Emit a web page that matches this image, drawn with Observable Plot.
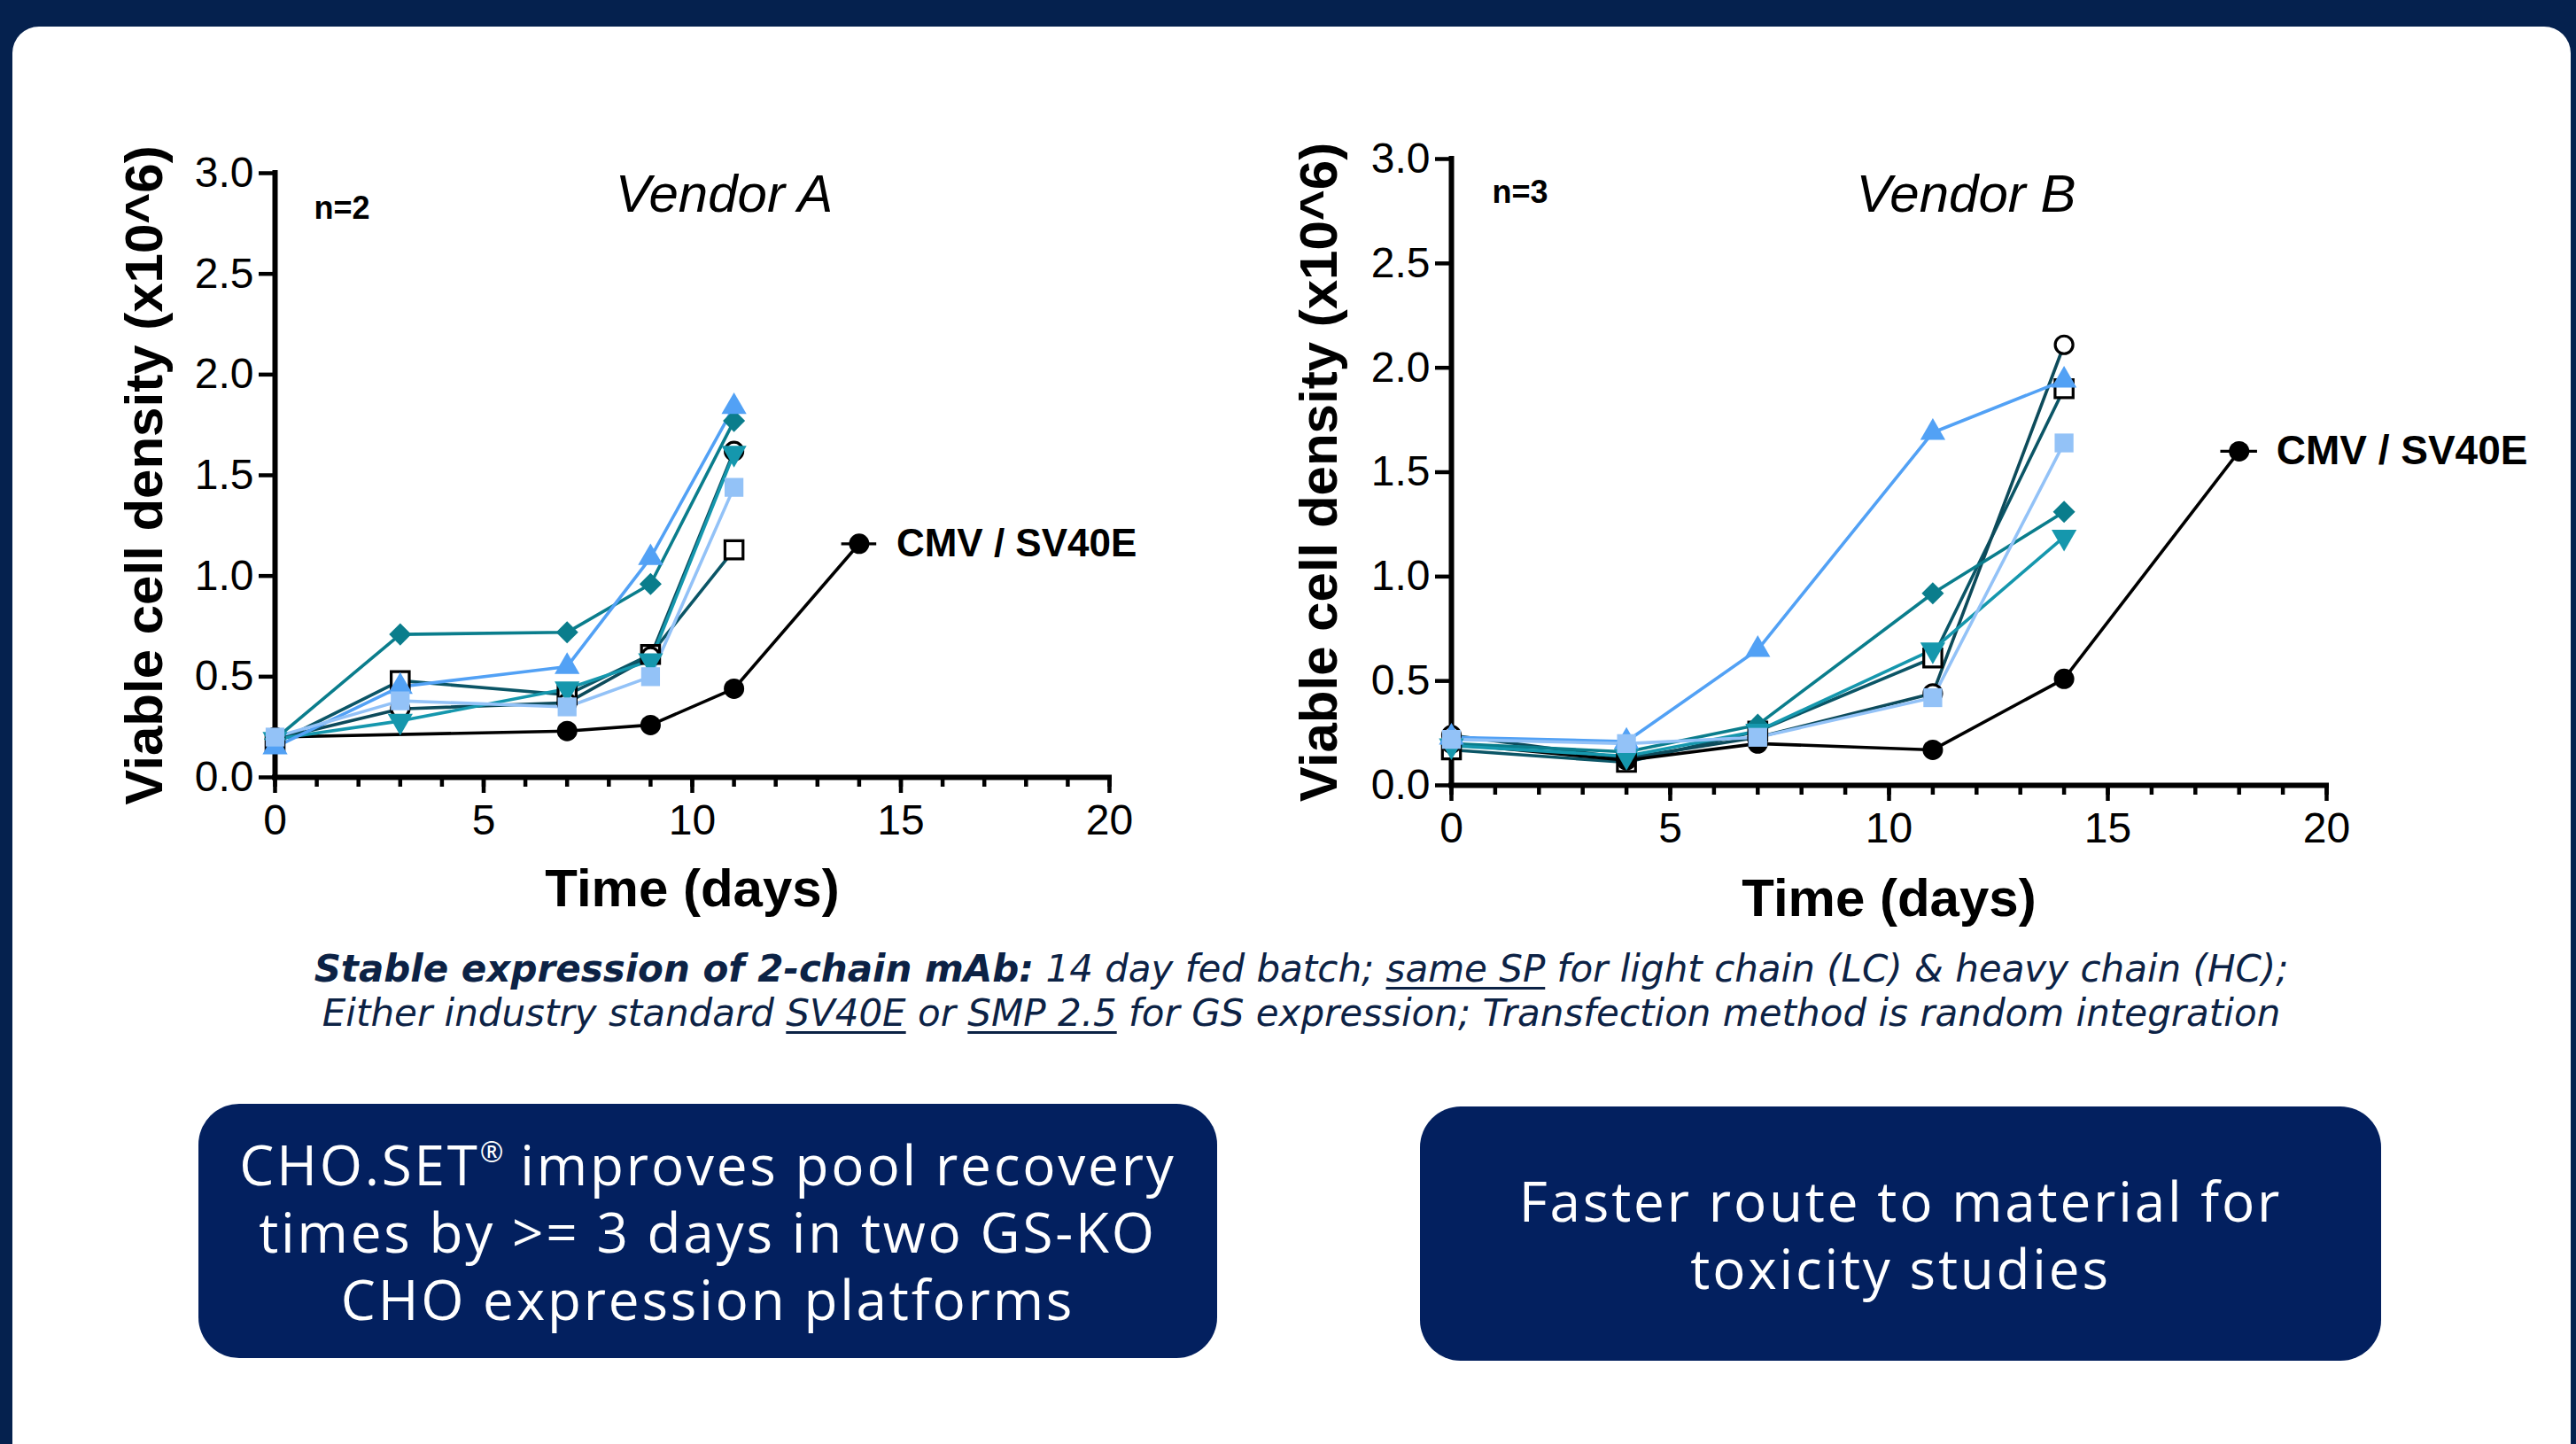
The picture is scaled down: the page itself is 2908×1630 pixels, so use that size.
<!DOCTYPE html>
<html>
<head>
<meta charset="utf-8">
<script src="https://cdn.jsdelivr.net/npm/d3@7"></script>
<script src="https://cdn.jsdelivr.net/npm/@observablehq/plot@0.6"></script>
<style>
  html, body { margin: 0; padding: 0; }
  body { width: 2908px; height: 1630px; background: #05214e; position: relative; overflow: hidden; }
  #panel { position: absolute; left: 14px; top: 30px; width: 2888px; height: 1700px; background: #fff; border-radius: 30px; }
  .chart { position: absolute; }
  #caption { position: absolute; left: 0; width: 2938px; top: 1069px; text-align: center;
    font-family: "DejaVu Sans", sans-serif; font-style: italic; font-size: 42px; line-height: 50px; color: #0c2245; }
  #caption div { height: 50px; white-space: nowrap; }
  #caption u { text-decoration-thickness: 3px; text-underline-offset: 6px; }
  .box { position: absolute; background: #03205f; border-radius: 46px; color: #fff; display: flex; align-items: center; justify-content: center;
    text-align: center; font-family: "Open Sans", "Noto Sans", sans-serif; font-size: 62px; line-height: 76px; letter-spacing: 2.8px; }
  .box sup { font-size: 32px; vertical-align: 26px; line-height: 0; letter-spacing: 0; }
</style>
</head>
<body>
<div id="panel"></div>
<div id="chartA" class="chart"></div>
<div id="chartB" class="chart"></div>
<div id="caption"></div>
<div class="box" id="box1"></div>
<div class="box" id="box2"></div>
<script>
// ---------------- DATA ----------------
const xMajorTicks = [0, 5, 10, 15, 20];
const xMinorTicks = [0, 1, 2, 3, 4, 5, 6, 7, 8, 9, 10, 11, 12, 13, 14, 15, 16, 17, 18, 19, 20];
const yTicks = [0, 0.5, 1.0, 1.5, 2.0, 2.5, 3.0];

const yAxisLabel = "Viable cell density (x10^6)";
const xAxisLabel = "Time (days)";
const cmvLabel = "CMV / SV40E";

// Vendor A
const vendorATitle = "Vendor A";
const vendorAN = "n=2";
const vendorADays = [0, 3, 7, 9, 11];
const vendorACmvDays = [0, 7, 9, 11, 14];
const vendorADiamond = [0.19, 0.71, 0.72, 0.96, 1.77];
const vendorATriUp = [0.15, 0.45, 0.55, 1.09, 1.84];
const vendorAOpenSquare = [0.17, 0.48, 0.41, 0.61, 1.13];
const vendorAOpenCircle = [0.19, 0.34, 0.37, 0.60, 1.62];
const vendorATriDown = [0.19, 0.28, 0.44, 0.58, 1.61];
const vendorALightSquare = [0.20, 0.38, 0.35, 0.50, 1.44];
const vendorACmv = [0.20, 0.23, 0.26, 0.44, 1.16];

// Vendor B
const vendorBTitle = "Vendor B";
const vendorBN = "n=3";
const vendorBDays = [0, 4, 7, 11, 14];
const vendorBCmvDays = [0, 4, 7, 11, 14, 18];
const vendorBDiamond = [0.20, 0.16, 0.29, 0.92, 1.31];
const vendorBTriUp = [0.23, 0.21, 0.65, 1.69, 1.94];
const vendorBOpenSquare = [0.17, 0.11, 0.26, 0.61, 1.90];
const vendorBOpenCircle = [0.24, 0.13, 0.23, 0.44, 2.11];
const vendorBTriDown = [0.19, 0.14, 0.26, 0.65, 1.19];
const vendorBLightSquare = [0.22, 0.20, 0.23, 0.42, 1.64];
const vendorBCmv = [0.20, 0.12, 0.20, 0.17, 0.51, 1.60];

// Text blocks
const captionBold = "Stable expression of 2-chain mAb:";
const captionLine1 = [" 14 day fed batch; ", "same SP", " for light chain (LC) & heavy chain (HC);"];
const captionLine2 = ["Either industry standard ", "SV40E", " or ", "SMP 2.5", " for GS expression; Transfection method is random integration"];
const box1Lines = ["CHO.SET", "®", " improves pool recovery", "times by >= 3 days in two GS-KO", "CHO expression platforms"];
const box2Lines = ["Faster route to material for", "toxicity studies"];

// ---------------- SYMBOLS / STYLES ----------------
const sqrt3 = Math.sqrt(3);
const symTriDown = { draw(ctx, size) { const y = -Math.sqrt(size / (sqrt3 * 3)); ctx.moveTo(0, -y * 2); ctx.lineTo(-sqrt3 * y, y); ctx.lineTo(sqrt3 * y, y); ctx.closePath(); } };
const symDiamond = { draw(ctx, size) { const h = Math.sqrt(size) / Math.SQRT2; ctx.moveTo(0, -h); ctx.lineTo(h, 0); ctx.lineTo(0, h); ctx.lineTo(-h, 0); ctx.closePath(); } };

const styles = {
  openSquare:  { line: "#0b5566", symbol: "square",   r: 11.5, fill: "#fff",    stroke: "#000", sw: 3.2 },
  openCircle:  { line: "#0d4b5b", symbol: "circle",   r: 10,   fill: "#fff",    stroke: "#000", sw: 3.2 },
  cmv:         { line: "#000",    symbol: "circle",   r: 11.5, fill: "#000",    stroke: "none", sw: 0 },
  diamond:     { line: "#0a7d8c", symbol: symDiamond, r: 10,   fill: "#0a7d8c", stroke: "none", sw: 0 },
  triDown:     { line: "#1597ad", symbol: symTriDown, r: 10.5, fill: "#1597ad", stroke: "none", sw: 0 },
  triUp:       { line: "#52a1f5", symbol: "triangle", r: 10.5, fill: "#52a1f5", stroke: "none", sw: 0 },
  lightSquare: { line: "#93c2f7", symbol: "square",   r: 12,   fill: "#93c2f7", stroke: "none", sw: 0 }
};
const drawOrder = ["openSquare", "openCircle", "cmv", "diamond", "triDown", "triUp", "lightSquare"];

function rowsOf(days, values) { return days.map((d, i) => ({ day: d, v: values[i] })); }

function makeChart(cfg) {
  const marks = [];
  for (const key of drawOrder) {
    const s = styles[key];
    marks.push(Plot.line(cfg.series[key], { x: "day", y: "v", stroke: s.line, strokeWidth: 3.6 }));
  }
  // axes
  marks.push(Plot.axisX({ ticks: xMinorTicks, tickSize: 11, strokeWidth: 4.5, tickFormat: () => "", label: null }));
  marks.push(Plot.axisX({ ticks: xMajorTicks, tickSize: 18, tickPadding: 12, strokeWidth: 4.5, fontSize: 48, tickFormat: d => String(d), label: null }));
  marks.push(Plot.axisY({ ticks: yTicks, tickSize: 18, tickPadding: 6, strokeWidth: 4.5, fontSize: 48, tickFormat: d3.format(".1f"), label: null }));
  marks.push(Plot.ruleX([0], { strokeWidth: 6, strokeLinecap: "square" }));
  marks.push(Plot.ruleY([0], { strokeWidth: 6, strokeLinecap: "square" }));
  for (const key of drawOrder) {
    const s = styles[key];
    marks.push(Plot.dot(cfg.series[key], { x: "day", y: "v", symbol: s.symbol, r: s.r, fill: s.fill, stroke: s.stroke, strokeWidth: s.sw }));
  }
  const last = cfg.series.cmv.slice(-1);
  marks.push(Plot.ruleY(last, { y: "v", x1: d => d.day - 0.42, x2: d => d.day + 0.42, stroke: "#000", strokeWidth: 3.2 }));
  marks.push(Plot.text(last, { x: "day", y: "v", text: () => cmvLabel, dx: 42, textAnchor: "start", lineAnchor: "middle", fontSize: cfg.cmvSize, fontWeight: "bold" }));
  // annotations
  marks.push(Plot.text([cfg.title], { text: d => d, frameAnchor: "top-left", dx: cfg.titleDx, dy: cfg.titleDy, textAnchor: "middle", lineAnchor: "middle", fontSize: 60, fontStyle: "italic" }));
  marks.push(Plot.text([cfg.n], { text: d => d, frameAnchor: "top-left", dx: cfg.nDx, dy: cfg.nDy, textAnchor: "start", lineAnchor: "middle", fontSize: 36, fontWeight: "bold" }));
  marks.push(Plot.text([yAxisLabel], { text: d => d, frameAnchor: "left", dx: cfg.yLabelDx, rotate: -90, textAnchor: "middle", lineAnchor: "middle", fontSize: 60, fontWeight: "bold" }));
  marks.push(Plot.text([xAxisLabel], { text: d => d, frameAnchor: "bottom", dy: cfg.xLabelDy, textAnchor: "middle", lineAnchor: "middle", fontSize: 60, fontWeight: "bold" }));

  return Plot.plot({
    width: cfg.width, height: cfg.height,
    marginLeft: cfg.ml, marginRight: cfg.mr, marginTop: cfg.mt, marginBottom: cfg.mb,
    x: { domain: [0, 20], label: null },
    y: { domain: [0, 3], label: null },
    style: { fontFamily: "'Liberation Sans', Arial, sans-serif", color: "#000", background: "transparent", overflow: "visible", maxWidth: "none" },
    marks
  });
}

function seriesSet(days, cmvDays, vals) {
  return {
    openSquare: rowsOf(days, vals.openSquare),
    openCircle: rowsOf(days, vals.openCircle),
    cmv: rowsOf(cmvDays, vals.cmv),
    diamond: rowsOf(days, vals.diamond),
    triDown: rowsOf(days, vals.triDown),
    triUp: rowsOf(days, vals.triUp),
    lightSquare: rowsOf(days, vals.lightSquare)
  };
}

const seriesA = seriesSet(vendorADays, vendorACmvDays, {
  openSquare: vendorAOpenSquare, openCircle: vendorAOpenCircle, cmv: vendorACmv, diamond: vendorADiamond,
  triDown: vendorATriDown, triUp: vendorATriUp, lightSquare: vendorALightSquare });
const seriesB = seriesSet(vendorBDays, vendorBCmvDays, {
  openSquare: vendorBOpenSquare, openCircle: vendorBOpenCircle, cmv: vendorBCmv, diamond: vendorBDiamond,
  triDown: vendorBTriDown, triUp: vendorBTriUp, lightSquare: vendorBLightSquare });

// Chart A: frame 310..1252 x, 195..877 y ; svg at (60,120) 1320x960
const elA = document.getElementById("chartA");
elA.style.left = "60px"; elA.style.top = "120px";
elA.appendChild(makeChart({
  series: seriesA, title: vendorATitle, n: vendorAN, cmvSize: 44,
  width: 1320, height: 960, ml: 250, mr: 128, mt: 75, mb: 203,
  titleDx: 507, titleDy: 24, nDx: 44, nDy: 40, yLabelDx: -147, xLabelDy: 126
}));

// Chart B: frame 1638..2626 x, 179..886 y ; svg at (1390,110) 1500x980
const elB = document.getElementById("chartB");
elB.style.left = "1390px"; elB.style.top = "110px";
elB.appendChild(makeChart({
  series: seriesB, title: vendorBTitle, n: vendorBN, cmvSize: 46,
  width: 1500, height: 980, ml: 248, mr: 264, mt: 69, mb: 204,
  titleDx: 581, titleDy: 40, nDx: 46, nDy: 38, yLabelDx: -149, xLabelDy: 128
}));

// Caption
const cap = document.getElementById("caption");
cap.innerHTML = `<div><b>${captionBold}</b>${captionLine1[0]}<u>${captionLine1[1]}</u>${captionLine1[2]}</div>` +
  `<div>${captionLine2[0]}<u>${captionLine2[1]}</u>${captionLine2[2]}<u>${captionLine2[3]}</u>${captionLine2[4]}</div>`;

// Boxes
const b1 = document.getElementById("box1");
Object.assign(b1.style, { left: "224px", top: "1246px", width: "1150px", height: "287px" });
b1.innerHTML = `<div>${box1Lines[0]}<sup>${box1Lines[1]}</sup>${box1Lines[2]}<br>${box1Lines[3]}<br>${box1Lines[4]}</div>`;
const b2 = document.getElementById("box2");
Object.assign(b2.style, { left: "1603px", top: "1249px", width: "1085px", height: "287px" });
b2.innerHTML = `<div>${box2Lines[0]}<br>${box2Lines[1]}</div>`;
</script>
</body>
</html>
